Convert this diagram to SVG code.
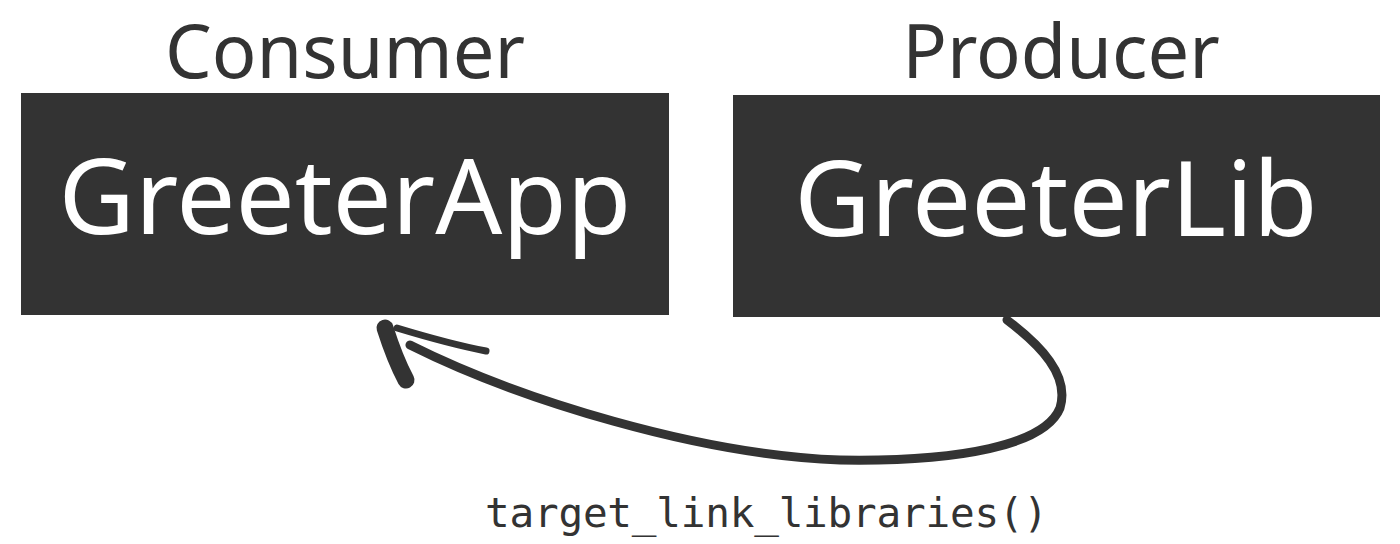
<svg xmlns="http://www.w3.org/2000/svg" width="1400" height="544" viewBox="0 0 1400 544">
<style>
.box{fill:#333333}
.hdr{font-family:"Noto Sans","Open Sans",sans-serif;font-size:74px;fill:#333333;text-anchor:middle}
.name{font-family:"Noto Sans","Open Sans",sans-serif;font-size:105px;fill:#ffffff;text-anchor:middle}
.code{font-family:"DejaVu Sans Mono","Liberation Mono",monospace;font-size:41px;fill:#333333}
.brush{fill:none;stroke:#333333;stroke-linecap:round;stroke-linejoin:round}
</style>
<rect width="1400" height="544" fill="#ffffff"/>
<g id="consumer">
<text class="hdr" x="345" y="78">Consumer</text>
<rect class="box" x="21" y="93" width="648" height="222"/>
<text class="name" x="345" y="234">GreeterApp</text>
</g>
<g id="producer">
<text class="hdr" x="1061" y="78">Producer</text>
<rect class="box" x="733" y="95" width="647" height="222"/>
<text class="name" x="1056" y="236">GreeterLib</text>
</g>
<g id="connectors">
<path class="brush" stroke-width="9" d="M1007,320 C1040,345 1070,375 1060,408 C1045,445 960,462 840,460 C700,455 520,400 410,345"/>
<path class="brush" stroke-width="17" d="M385,328 C392,350 398,365 406,380"/>
<path class="brush" stroke-width="7" d="M397,328 C430,338 460,346 486,351"/>
<text class="code" x="485" y="527" textLength="563">target_link_libraries()</text>
</g>
</svg>
